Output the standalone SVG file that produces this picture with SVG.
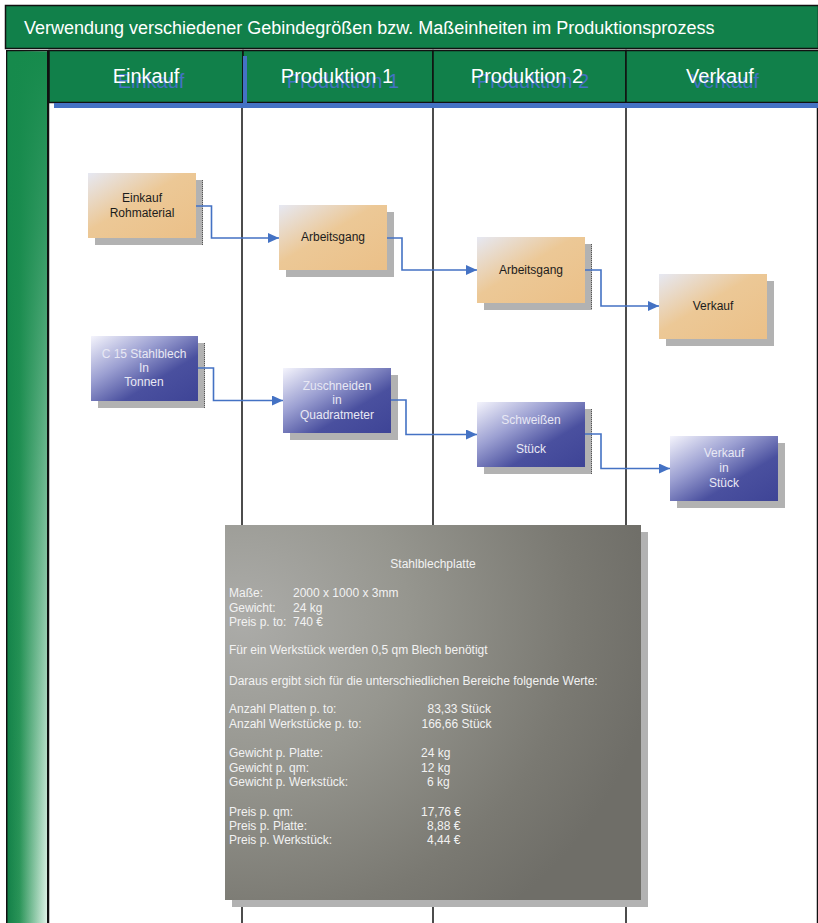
<svg xmlns="http://www.w3.org/2000/svg" width="818" height="923" viewBox="0 0 818 923">
  <defs>
    <linearGradient id="gOrange" x1="0" y1="0" x2="1" y2="1">
      <stop offset="0" stop-color="#e6e8f2"/>
      <stop offset="0.45" stop-color="#ecc896"/>
      <stop offset="1" stop-color="#ebc088"/>
    </linearGradient>
    <linearGradient id="gBlue" x1="0" y1="0" x2="1" y2="1">
      <stop offset="0" stop-color="#f4f4fc"/>
      <stop offset="0.35" stop-color="#9ca0d2"/>
      <stop offset="0.65" stop-color="#4a509f"/>
      <stop offset="1" stop-color="#3e4496"/>
    </linearGradient>
    <radialGradient id="gGrey" cx="0.04" cy="0.25" r="1">
      <stop offset="0" stop-color="#acaca9"/>
      <stop offset="0.4" stop-color="#96968f"/>
      <stop offset="0.8" stop-color="#7a7972"/>
      <stop offset="1" stop-color="#6f6e68"/>
    </radialGradient>
    <linearGradient id="gBarBase" x1="0" y1="0" x2="1" y2="0">
      <stop offset="0" stop-color="#138048"/>
      <stop offset="0.3" stop-color="#2a9458"/>
      <stop offset="1" stop-color="#e0f3e8"/>
    </linearGradient>
    <linearGradient id="gBarFade" x1="0" y1="0" x2="0" y2="1">
      <stop offset="0" stop-color="#168a4c" stop-opacity="1"/>
      <stop offset="0.2" stop-color="#168a4c" stop-opacity="0.85"/>
      <stop offset="1" stop-color="#168a4c" stop-opacity="0"/>
    </linearGradient>
    <marker id="arrow" markerWidth="12" markerHeight="10" refX="11" refY="5" orient="auto" markerUnits="userSpaceOnUse">
      <path d="M0,0 L11,5 L0,10 Z" fill="#4472c4"/>
    </marker>
    <style>
      .green { fill: #11804a; stroke: #111; stroke-width: 1.5; }
      .title { font-family: "Liberation Sans", Arial, sans-serif; font-size: 18px; fill: #ffffff; }
      .hdr { font-family: "Liberation Sans", Arial, sans-serif; font-size: 20px; text-anchor: middle; }
      .hdr-w { fill: #ffffff; }
      .hdr-b { fill: #4472c4; }
      .lane { stroke: #111; stroke-width: 1.5; }
      .shadow { fill: #b2b2b2; }
      .dots { stroke: #555; stroke-width: 1; stroke-dasharray: 1 1; }
      .orange { fill: url(#gOrange); }
      .blue { fill: url(#gBlue); }
      .t { font-family: "Liberation Sans", Arial, sans-serif; font-size: 12px; text-anchor: middle; }
      .t-dark { fill: #1c1c1c; }
      .t-light { fill: #e8e8f4; }
      .conn { fill: none; stroke: #4472c4; stroke-width: 1.6; marker-end: url(#arrow); }
      .info { font-family: "Liberation Sans", Arial, sans-serif; font-size: 12px; fill: #f2f2f2; }
    </style>
  </defs>

  <rect x="0" y="0" width="818" height="923" fill="#ffffff"/>

  <!-- swimlane frame -->
  <g id="frame">
    <rect class="green" x="5.5" y="5.5" width="813" height="43"/>
    <text class="title" x="24" y="34">Verwendung verschiedener Gebindegrößen bzw. Maßeinheiten im Produktionsprozess</text>

    <!-- left band -->
    <rect x="6" y="50" width="43" height="880" fill="#111"/>
    <rect x="7.5" y="51.5" width="39.5" height="880" fill="url(#gBarBase)"/>
    <rect x="7.5" y="51.5" width="39.5" height="880" fill="url(#gBarFade)"/>

    <!-- lane headers -->
    <rect class="green" x="49" y="50.5" width="194" height="52"/>
    <rect class="green" x="243" y="50.5" width="190" height="52"/>
    <rect class="green" x="433" y="50.5" width="193" height="52"/>
    <rect class="green" x="626" y="50.5" width="193" height="52"/>

    <rect x="54" y="103" width="764" height="5" fill="#4472c4"/>
    <rect x="243" y="56" width="4" height="50" fill="#4472c4"/>

    <text class="hdr hdr-b" x="151" y="88">Einkauf</text>
    <text class="hdr hdr-w" x="146" y="83">Einkauf</text>
    <text class="hdr hdr-b" x="343" y="88">Produktion 1</text>
    <text class="hdr hdr-w" x="337" y="83">Produktion 1</text>
    <text class="hdr hdr-b" x="533" y="88">Produktion 2</text>
    <text class="hdr hdr-w" x="527" y="83">Produktion 2</text>
    <text class="hdr hdr-b" x="725" y="88">Verkauf</text>
    <text class="hdr hdr-w" x="720" y="83">Verkauf</text>

    <!-- lane dividers -->
    <line class="lane" x1="48.5" y1="102" x2="48.5" y2="923"/>
    <line class="lane" x1="242" y1="108" x2="242" y2="923"/>
    <line class="lane" x1="433" y1="108" x2="433" y2="923"/>
    <line class="lane" x1="626" y1="108" x2="626" y2="923"/>
    <line class="lane" x1="817.5" y1="108" x2="817.5" y2="923"/>
  </g>

  <!-- process steps -->
  <g id="einkauf-rohmaterial">
    <rect class="shadow" x="95" y="180" width="108" height="65"/>
    <line class="dots" x1="202.5" y1="180" x2="202.5" y2="245"/>
    <rect class="orange" x="88" y="173" width="108" height="65"/>
    <text class="t t-dark" x="142" y="202">Einkauf</text>
    <text class="t t-dark" x="142" y="217">Rohmaterial</text>
  </g>

  <g id="arbeitsgang-1">
    <rect class="shadow" x="286" y="212" width="108" height="65"/>
    <rect class="orange" x="279" y="205" width="108" height="65"/>
    <text class="t t-dark" x="333" y="241">Arbeitsgang</text>
  </g>

  <g id="arbeitsgang-2">
    <rect class="shadow" x="484" y="244" width="108" height="66"/>
    <line class="dots" x1="591.5" y1="244" x2="591.5" y2="310"/>
    <rect class="orange" x="477" y="237" width="108" height="66"/>
    <text class="t t-dark" x="531" y="274">Arbeitsgang</text>
  </g>

  <g id="verkauf">
    <rect class="shadow" x="666" y="281" width="108" height="65"/>
    <rect class="orange" x="659" y="274" width="108" height="65"/>
    <text class="t t-dark" x="713" y="310">Verkauf</text>
  </g>

  <g id="stahlblech-tonnen">
    <rect class="shadow" x="98" y="343" width="107" height="65"/>
    <line class="dots" x1="204.5" y1="343" x2="204.5" y2="408"/>
    <rect class="blue" x="91" y="336" width="107" height="65"/>
    <text class="t t-light" x="144" y="358">C 15 Stahlblech</text>
    <text class="t t-light" x="144" y="372">In</text>
    <text class="t t-light" x="144" y="386">Tonnen</text>
  </g>

  <g id="zuschneiden-qm">
    <rect class="shadow" x="290" y="375" width="108" height="65"/>
    <rect class="blue" x="283" y="368" width="108" height="65"/>
    <text class="t t-light" x="337" y="390">Zuschneiden</text>
    <text class="t t-light" x="337" y="404">in</text>
    <text class="t t-light" x="337" y="419">Quadratmeter</text>
  </g>

  <g id="schweissen-stueck">
    <rect class="shadow" x="484" y="409" width="108" height="65"/>
    <line class="dots" x1="591.5" y1="409" x2="591.5" y2="474"/>
    <rect class="blue" x="477" y="402" width="108" height="65"/>
    <text class="t t-light" x="531" y="424">Schweißen</text>
    <text class="t t-light" x="531" y="453">Stück</text>
  </g>

  <g id="verkauf-stueck">
    <rect class="shadow" x="677" y="443" width="108" height="65"/>
    <rect class="blue" x="670" y="436" width="108" height="65"/>
    <text class="t t-light" x="724" y="457">Verkauf</text>
    <text class="t t-light" x="724" y="472">in</text>
    <text class="t t-light" x="724" y="487">Stück</text>
  </g>

  <!-- flow connectors -->
  <g id="connectors">
    <path class="conn" d="M196,206 H211.5 V238 H279"/>
    <path class="conn" d="M387,238 H402 V270 H477"/>
    <path class="conn" d="M585,270 H601 V306 H659"/>
    <path class="conn" d="M198,368 H213.5 V400.5 H283"/>
    <path class="conn" d="M391,400 H406 V434.5 H477"/>
    <path class="conn" d="M585,434 H601 V468.5 H670"/>
  </g>

  <!-- sheet metal data panel -->
  <g id="stahlblechplatte">
    <rect class="shadow" x="232" y="532" width="416" height="375"/>
    <rect x="225" y="525" width="416" height="375" fill="url(#gGrey)"/>
    <text class="info" x="433" y="568" text-anchor="middle">Stahlblechplatte</text>

    <text class="info" x="229" y="597">Maße:</text>
    <text class="info" x="293" y="597">2000 x 1000 x 3mm</text>
    <text class="info" x="229" y="612">Gewicht:</text>
    <text class="info" x="293" y="612">24 kg</text>
    <text class="info" x="229" y="626">Preis p. to:</text>
    <text class="info" x="293" y="626">740 €</text>

    <text class="info" x="229" y="654">Für ein Werkstück werden 0,5 qm Blech benötigt</text>
    <text class="info" x="229" y="685">Daraus ergibt sich für die unterschiedlichen Bereiche folgende Werte:</text>

    <text class="info" x="229" y="713">Anzahl Platten p. to:</text>
    <text class="info" x="427.5" y="713">83,33 Stück</text>
    <text class="info" x="229" y="728">Anzahl Werkstücke p. to:</text>
    <text class="info" x="421.5" y="728">166,66 Stück</text>

    <text class="info" x="229" y="757">Gewicht p. Platte:</text>
    <text class="info" x="421" y="757">24 kg</text>
    <text class="info" x="229" y="772">Gewicht p. qm:</text>
    <text class="info" x="421" y="772">12 kg</text>
    <text class="info" x="229" y="786">Gewicht p. Werkstück:</text>
    <text class="info" x="427" y="786">6 kg</text>

    <text class="info" x="229" y="816">Preis p. qm:</text>
    <text class="info" x="421" y="816">17,76 €</text>
    <text class="info" x="229" y="830">Preis p. Platte:</text>
    <text class="info" x="427" y="830">8,88 €</text>
    <text class="info" x="229" y="844">Preis p. Werkstück:</text>
    <text class="info" x="427" y="844">4,44 €</text>
  </g>
</svg>
